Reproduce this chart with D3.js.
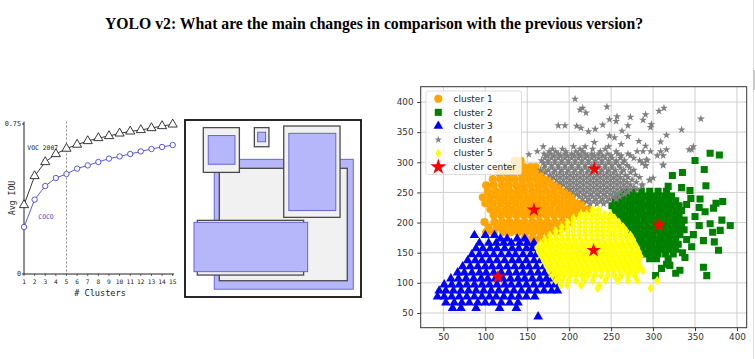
<!DOCTYPE html>
<html><head><meta charset="utf-8">
<script src="https://cdn.jsdelivr.net/npm/d3@7"></script>
<style>body{margin:0;background:#fff;}svg{display:block;}</style>
</head><body>
<script>
// ---------- DATA ----------
const titleText = "YOLO v2: What are the main changes in comparison with the previous version?";

// Left chart: Avg IOU vs # clusters
const clusterCounts = [1,2,3,4,5,6,7,8,9,10,11,12,13,14,15];
const vocIOU  = [0.345,0.49,0.56,0.60,0.627,0.647,0.665,0.68,0.69,0.703,0.713,0.72,0.73,0.74,0.748];
const cocoIOU = [0.235,0.372,0.44,0.48,0.50,0.527,0.543,0.56,0.577,0.588,0.60,0.613,0.625,0.635,0.645];
const iouTickLabels = [[0,"0"],[0.75,"0.75"]];

// Middle diagram: anchor boxes (units 0..100 of the panel) [x0,y0,x1,y1]
const diagramBoxes = [
  {kind:"blue", b:[16.6,22.2,95.6,95.6]},
  {kind:"gray", b:[19.5,27.3,92.2,90.8]},
  {kind:"gray", b:[10.4,4.3,30.9,29.6]},
  {kind:"blue", b:[13.2,8.8,28.4,25.0]},
  {kind:"gray", b:[39.4,4.3,47.7,15.1]},
  {kind:"blue", b:[41.3,6.9,45.8,12.3]},
  {kind:"gray", b:[56.1,3.4,88.1,55.0]},
  {kind:"blue", b:[59.0,7.5,85.7,51.2]},
  {kind:"gray", b:[7.0,56.7,67.4,87.6]},
  {kind:"blue", b:[5.1,57.8,69.7,85.7]}
];

// Right chart: k-means clusters (rows: [y, [x...]])
const xTicks = [50,100,150,200,250,300,350,400];
const yTicks = [50,100,150,200,250,300,350,400];
const legendLabels = ["cluster 1","cluster 2","cluster 3","cluster 4","cluster 5","cluster center"];

const cluster1Rows = [
 [303,[142,135]],
 [292,[127,137,146,154,160]],
 [282,[117,126,134,143,151,159,167]],
 [272,[109,118,127,135,144,152,161,169,177]],
 [262,[101,110,120,128,137,145,154,163,171,180,187]],
 [252,[103,112,121,129,138,147,156,164,173,182,191,198]],
 [242,[97,106,115,123,132,141,150,158,167,176,185,194,203]],
 [232,[100,109,118,127,136,145,154,163,172,181,190,199,208,215]],
 [222,[106,115,124,133,142,151,160,169,178,187,196,205,214,222]],
 [212,[110,119,128,137,146,155,164,173,182,191,200,209]],
 [201,[99,111,120,129,138,147,156,165,174,183,192,201]],
 [192,[104,114,123,132,141,150,159,168,177,187,194]],
 [184,[101,110,121,130,139,148,157,166,175,184]],
 [174,[147,156,165,174]],
 [164,[152,160,167]]
];
const cluster2Rows = [
 [252,[266,276,286,296,306,316]],
 [244,[258,266,274,282,290,298,306,314,322]],
 [236,[255,263,271,279,287,295,303,311,319,327]],
 [228,[251,259,267,275,283,291,299,307,315,323,331]],
 [220,[255,263,271,279,287,295,303,311,319,327,334]],
 [212,[259,267,275,283,291,299,307,315,323,331]],
 [204,[265,273,281,289,297,305,313,321,329,337]],
 [196,[270,278,286,294,302,310,318,326,334]],
 [188,[273,281,289,297,305,313,321,329,337]],
 [180,[276,284,292,300,308,316,324,332]],
 [172,[279,287,295,303,311,319,327]],
 [164,[283,291,299,307,315,323,330]],
 [156,[287,295,303,311,319,327]],
 [148,[290,298,306,315,324]],
 [140,[296,304,318]]
];
const cluster2Extra = [[368,315],[379,312],[350,303],[361,288],[335,283],[323,278],[363,261],[318,260],[334,258],[344,253],[356,239],[383,235],[375,232],[345,240],[340,230],[355,225],[362,218],[372,224],[368,198],[382,204],[392,195],[350,210],[355,195],[380,187],[371,184],[378,154],[373,168],[360,170],[348,180],[340,172],[338,142],[316,131],[327,116],[332,121],[320,129],[360,126],[364,112],[346,160],[335,150],[310,124],[303,112]];
const cluster3Rows = [
 [179,[87,100,111]],
 [173,[118,126,138,147]],
 [166,[93,104,113,122,131,141,150,158]],
 [157,[89,97,106,114,123,132,140,149,156]],
 [147,[84,93,101,110,119,128,136,145,154,161]],
 [137,[79,88,96,105,114,123,132,140,149,158,166]],
 [127,[73,82,91,100,108,117,126,135,144,152,161,170]],
 [117,[67,75,84,93,101,110,119,128,137,145,154,163,171,176]],
 [107,[59,68,77,86,95,103,112,121,130,139,147,156,165,173,180]],
 [97,[51,60,69,78,87,96,105,114,123,131,140,149,158,167,175,183]],
 [87,[45,53,62,71,80,89,98,107,116,125,134,143,152,161,170,179,186]],
 [77,[43,51,60,69,78,87,96,105,113,122,131,140,149,159]],
 [67,[53,63,72,81,91,100,109,119,129,139]],
 [58,[61,71,89,117,137]],
 [44,[163]]
];
const cluster4Rows = [
 [326,[169,205,219,247]],
 [322,[180,192,213,228,243]],
 [318,[162,176,184,196,208,216,237,256,281,288,297,309]],
 [314,[170,178,187,195,203,211,219,227,235,246,258,270]],
 [311,[174,182,190,198,206,214,222,230,240,250,262,273,305,312]],
 [307,[171,179,187,195,203,211,219,227,235,243,251,261,277]],
 [303,[167,175,183,191,199,207,215,223,231,239,247,256,266,284,293]],
 [299,[169,175,183,191,199,207,215,223,231,239,247,255,264,287]],
 [295,[171,179,187,195,203,211,219,227,235,243,251,259,269,291,312]],
 [291,[170,179,187,195,203,211,219,227,235,243,251,261,272]],
 [287,[166,175,183,191,199,207,215,223,239,247,255,265,277]],
 [283,[172,181,189,197,205,213,221,229,237,245,253,262,273]],
 [279,[177,185,193,201,209,217,225,233,241,249,257,267,279]],
 [275,[181,189,197,205,213,221,229,237,245,253,261,270,284]],
 [271,[185,193,201,209,217,225,233,241,249,257,265,275,296]],
 [267,[189,197,205,213,221,229,237,245,253,261,269,280]],
 [263,[193,201,209,217,225,233,241,249,257,265,273,287]],
 [259,[197,205,213,221,229,237,245,253,261,269,277]],
 [255,[201,209,217,225,233,241,249,257,265,273,281]],
 [251,[205,213,221,229,237,245,253,261,270]],
 [247,[209,217,225,233,241,249,257,266]],
 [243,[212,220,228,236,244,252,260]],
 [239,[216,224,232,240,248,256]],
 [235,[221,229,237,245]],
 [231,[225,233,241]]
];
const cluster4Extra = [[207,405],[213,387],[216,390],[220,382],[245,392],[248,371],[257,376],[256,368],[273,375],[270,361],[187,361],[195,361],[209,360],[214,357],[231,355],[223,351],[248,344],[254,341],[270,343],[313,390],[307,385],[291,379],[288,370],[357,372],[298,363],[297,358],[334,354],[316,345],[309,334],[291,327],[348,326],[346,321],[316,321],[343,321],[300,274],[296,270],[287,261],[292,304],[312,296],[291,294],[152,313],[230,333],[262,330],[283,335],[263,352],[240,362]];
const cluster5Rows = [
 [221,[228,235]],
 [214,[214,221,228,235,242,249]],
 [207,[205,212,219,226,233,240,247,254]],
 [200,[198,205,212,219,226,233,240,247,254,259]],
 [193,[191,198,205,212,219,226,233,240,247,254,260,264]],
 [186,[184,191,198,205,212,219,226,233,240,247,254,261,268]],
 [179,[177,184,191,198,205,212,219,226,233,240,247,254,261,268,273]],
 [172,[171,178,185,192,199,206,213,220,227,234,241,248,255,262,269,276]],
 [165,[166,173,180,187,194,201,208,215,222,229,236,243,250,257,264,271,278]],
 [158,[162,169,176,183,190,197,204,211,218,225,232,239,246,253,260,267,274,281]],
 [151,[164,171,178,185,192,199,206,213,220,227,234,241,248,255,262,269,276,283]],
 [144,[167,174,181,188,195,202,209,216,223,230,237,244,251,258,265,272,279,285]],
 [136,[170,177,184,191,198,205,212,219,226,233,240,247,254,261,268,275,282]],
 [128,[173,180,187,194,201,208,215,222,229,236,243,250,257,264,271,278,284]],
 [120,[176,183,190,197,204,211,218,225,232,239,246,253,260,267,274,281,288]],
 [112,[180,187,194,201,208,215,222,230,238,246,254,262,270,278]],
 [104,[184,191,199,208,218,228,243,258,270,281,305]],
 [96,[190,198,214,236]],
 [91,[234,297]]
];
const centerX = [158,307,115,230,229];
const centerY = [221,196,110,289,154];

// ---------- HELPERS ----------
const fromRows = (rows, extra=[]) => rows.flatMap(([y, xs]) => xs.map(x => [x, y])).concat(extra);

const svg = d3.select("body").append("svg").attr("width",755).attr("height",359);

// Title
svg.append("text").attr("x",374).attr("y",29).attr("text-anchor","middle")
  .attr("font-family","'Liberation Serif','Times New Roman',serif").attr("font-weight","bold")
  .attr("font-size",17).attr("textLength",538).attr("lengthAdjust","spacingAndGlyphs")
  .attr("fill","#000").text(titleText);

// ---------- LEFT CHART ----------
{
  const g = svg.append("g");
  const lx = d3.scaleLinear().domain([1,15]).range([24,172.7]);
  const ly = d3.scaleLinear().domain([0,0.75]).range([274,124]);
  const mono = "'DejaVu Sans Mono',monospace";
  g.append("line").attr("x1",24).attr("x2",24).attr("y1",121.5).attr("y2",274).attr("stroke","#222").attr("stroke-width",1);
  g.append("line").attr("x1",24).attr("x2",174).attr("y1",274).attr("y2",274).attr("stroke","#222").attr("stroke-width",1);
  g.append("line").attr("x1",lx(5)).attr("x2",lx(5)).attr("y1",121.5).attr("y2",274)
    .attr("stroke","#666").attr("stroke-width",0.8).attr("stroke-dasharray","2,2");
  iouTickLabels.forEach(([v,t])=>{
    g.append("line").attr("x1",22).attr("x2",24).attr("y1",ly(v)).attr("y2",ly(v)).attr("stroke","#222");
    g.append("text").attr("x",21).attr("y",ly(v)).attr("dy","0.35em").attr("text-anchor","end")
      .attr("font-family",mono).attr("font-size",6.8).attr("fill","#222").text(t);
  });
  clusterCounts.forEach(k=>{
    g.append("line").attr("x1",lx(k)).attr("x2",lx(k)).attr("y1",274).attr("y2",276).attr("stroke","#222").attr("stroke-width",0.7);
    g.append("text").attr("x",lx(k)).attr("y",282.3).attr("dy","0.35em").attr("text-anchor","middle")
      .attr("font-family",mono).attr("font-size",6.2).attr("fill","#222").text(k);
  });
  g.append("text").attr("x",100).attr("y",292.7).attr("dy","0.35em").attr("text-anchor","middle")
    .attr("font-family",mono).attr("font-size",8.6).attr("fill","#222").text("# Clusters");
  g.append("text").attr("transform","translate(12,198) rotate(-90)").attr("dy","0.35em").attr("text-anchor","middle")
    .attr("font-family",mono).attr("font-size",8.2).attr("fill","#222").text("Avg IOU");
  const lineGen = arr => d3.line().x((d,i)=>lx(clusterCounts[i])).y(d=>ly(d))(arr);
  g.append("path").attr("d",lineGen(vocIOU)).attr("fill","none").attr("stroke","#222").attr("stroke-width",0.9);
  g.append("path").attr("d",lineGen(cocoIOU)).attr("fill","none").attr("stroke","#4646d2").attr("stroke-width",0.9);
  const tri = d3.symbol(d3.symbolTriangle, 36)();
  g.selectAll(".voc").data(vocIOU).join("path").attr("d",tri)
    .attr("transform",(d,i)=>`translate(${lx(clusterCounts[i])},${ly(d)})`)
    .attr("fill","#fff").attr("stroke","#222").attr("stroke-width",0.9);
  g.selectAll(".coco").data(cocoIOU).join("circle")
    .attr("cx",(d,i)=>lx(clusterCounts[i])).attr("cy",d=>ly(d)).attr("r",2.7)
    .attr("fill","#fff").attr("stroke","#4646d2").attr("stroke-width",0.9);
  g.append("text").attr("x",27.3).attr("y",147.3).attr("dy","0.35em").attr("font-family",mono)
    .attr("font-size",6.4).attr("fill","#222").text("VOC 2007");
  g.append("text").attr("x",38.3).attr("y",216.7).attr("dy","0.35em").attr("font-family",mono)
    .attr("font-size",6.4).attr("fill","#4646d2").text("COCO");
}

// ---------- MIDDLE DIAGRAM ----------
{
  const g = svg.append("g");
  const dx = d3.scaleLinear().domain([0,100]).range([185,361]);
  const dy = d3.scaleLinear().domain([0,100]).range([120,297]);
  g.append("rect").attr("x",185).attr("y",120).attr("width",176).attr("height",177)
    .attr("fill","#fff").attr("stroke","#111").attr("stroke-width",1.8);
  diagramBoxes.forEach(({kind,b})=>{
    g.append("rect").attr("x",dx(b[0])).attr("y",dy(b[1]))
      .attr("width",dx(b[2])-dx(b[0])).attr("height",dy(b[3])-dy(b[1]))
      .attr("fill",kind==="blue"?"#b6b6fb":"#f1f1f1")
      .attr("stroke",kind==="blue"?"#5a5ad0":"#4a4a4a")
      .attr("stroke-width",kind==="blue"?0.9:1.3);
  });
}

// ---------- RIGHT CHART ----------
{
  const g = svg.append("g");
  const sx = d3.scaleLinear().domain([23,411.6]).range([420.7,746.7]);
  const sy = d3.scaleLinear().domain([25.6,425.4]).range([327.7,86.7]);
  const sans = "'DejaVu Sans',sans-serif";
  g.selectAll(".gx").data(xTicks).join("line").attr("x1",d=>sx(d)).attr("x2",d=>sx(d))
    .attr("y1",86.7).attr("y2",327.7).attr("stroke","#d0d0d0").attr("stroke-width",1);
  g.selectAll(".gy").data(yTicks).join("line").attr("y1",d=>sy(d)).attr("y2",d=>sy(d))
    .attr("x1",420.7).attr("x2",746.7).attr("stroke","#d0d0d0").attr("stroke-width",1);

  const circ = d3.symbol(d3.symbolCircle, 52)();
  const sq = d3.symbol(d3.symbolSquare, 50)();
  const triS = d3.symbol(d3.symbolTriangle, 40)();
  const starS = d3.symbol(d3.symbolStar, 20)();
  const diam = "M0,-4.8L3.2,0L0,4.8L-3.2,0Z";
  const starBig = d3.symbol(d3.symbolStar, 66)();
  const series = [
    {pts: fromRows(cluster1Rows), d: circ, c: "#ffa500"},
    {pts: fromRows(cluster2Rows, cluster2Extra), d: sq, c: "#008000"},
    {pts: fromRows(cluster3Rows), d: triS, c: "#0000ff"},
    {pts: fromRows(cluster4Rows, cluster4Extra), d: starS, c: "#808080"},
    {pts: fromRows(cluster5Rows), d: diam, c: "#ffff00"}
  ];
  svg.append("clipPath").attr("id","plotclip").append("rect")
    .attr("x",420.7).attr("y",86.7).attr("width",326).attr("height",241);
  const pg = g.append("g").attr("clip-path","url(#plotclip)");
  series.forEach(s=>{
    pg.append("g").selectAll("path").data(s.pts).join("path").attr("d",s.d)
      .attr("transform",d=>`translate(${sx(d[0])},${sy(d[1])})`).attr("fill",s.c);
  });
  pg.append("g").selectAll("path").data(centerX).join("path").attr("d",starBig)
    .attr("transform",(d,i)=>`translate(${sx(d)},${sy(centerY[i])})`).attr("fill","#ff0000");

  g.append("rect").attr("x",420.7).attr("y",86.7).attr("width",326).attr("height",241)
    .attr("fill","none").attr("stroke","#333").attr("stroke-width",1);
  const ax = g.append("g").attr("transform","translate(0,327.7)")
    .call(d3.axisBottom(sx).tickValues(xTicks).tickSize(3.5).tickSizeOuter(0));
  const ay = g.append("g").attr("transform","translate(420.7,0)")
    .call(d3.axisLeft(sy).tickValues(yTicks).tickSize(3.5).tickSizeOuter(0));
  [ax,ay].forEach(a=>{
    a.select(".domain").remove();
    a.selectAll("line").attr("stroke","#333");
    a.selectAll("text").attr("font-family",sans).attr("font-size",8.8).attr("fill","#333");
  });
  ax.selectAll("text").attr("y",6).attr("dy","0.71em");
  ay.selectAll("text").attr("x",-7.2);

  const lg = g.append("g");
  lg.append("rect").attr("x",426).attr("y",91).attr("width",95.5).attr("height",83.5).attr("rx",2)
    .attr("fill","#fff").attr("fill-opacity",0.8).attr("stroke","#d6d6d6").attr("stroke-width",0.8);
  const legMarks = [
    {d: circ, c:"#ffa500"},{d: sq, c:"#008000"},{d: triS, c:"#0000ff"},
    {d: d3.symbol(d3.symbolStar, 18)(), c:"#808080"},{d: "M0,-4.8L2.8,0L0,4.8L-2.8,0Z", c:"#ffff00"},
    {d: d3.symbol(d3.symbolStar, 80)(), c:"#ff0000"}
  ];
  legendLabels.forEach((t,i)=>{
    const y = 98.7 + i*13.65;
    lg.append("path").attr("d",legMarks[i].d).attr("transform",`translate(438.3,${y})`).attr("fill",legMarks[i].c);
    lg.append("text").attr("x",453.5).attr("y",y).attr("dy","0.35em").attr("font-family",sans)
      .attr("font-size",9).attr("fill","#222").text(t);
  });
}

svg.append("line").attr("x1",753.5).attr("x2",753.5).attr("y1",0).attr("y2",359).attr("stroke","#e2e2e2").attr("stroke-width",1);
svg.append("rect").attr("x",753).attr("y",70).attr("width",2).attr("height",20).attr("fill","#c8c8c8");
</script>
</body></html>
